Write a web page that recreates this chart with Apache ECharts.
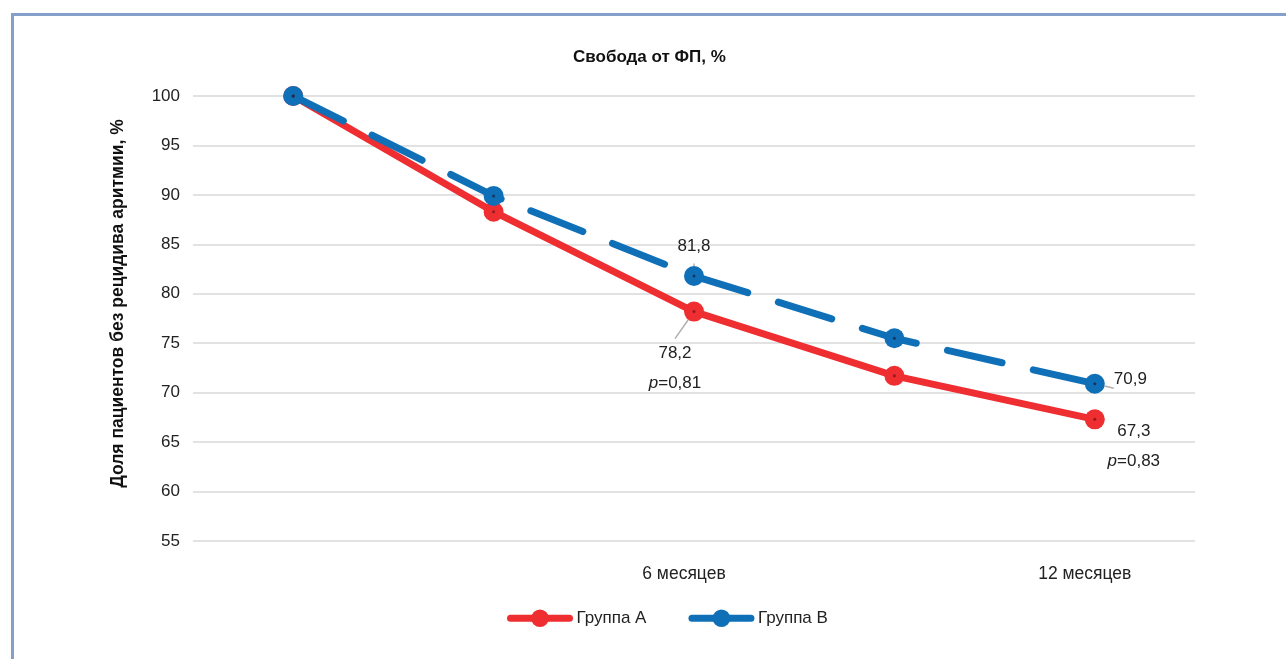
<!DOCTYPE html>
<html>
<head>
<meta charset="utf-8">
<script src="https://cdn.jsdelivr.net/npm/echarts@6/dist/echarts.min.js"></script>
<style>
  html, body { margin: 0; padding: 0; background: #fff; }
  #wrap { position: relative; width: 1286px; height: 659px; overflow: hidden; }
  #frame { position: absolute; left: 11px; top: 13px; width: 1400px; height: 800px;
           border-left: 3px solid #859fcb; border-top: 3px solid #859fcb; box-sizing: border-box; }
  #chart { position: absolute; left: 0; top: 0; width: 1286px; height: 659px; }
</style>
</head>
<body>
<div id="wrap">
  <div id="frame"></div>
  <div id="chart"></div>
</div>
<script>
// Follow-up points (only the 6- and 12-month marks are labelled)
const categories = ['', '', '6 месяцев', '', '12 месяцев'];
const groupA = [100, 88.3, 78.2, 71.7, 67.3];
const groupB = [100, 89.9, 81.8, 75.5, 70.9];
const yTicks = { min: 55, max: 100, interval: 5 };
// p-values shown under the labelled points of group A
const pValues = { 2: '0,81', 4: '0,83' };

const FONT = '"Liberation Sans", Arial, sans-serif';
const FS = 17;
const RED = '#ee2e31';
const BLUE = '#0f70b8';
const LEADER = { show: true, lineStyle: { color: '#b0b0b0', width: 1.5 } };

const fmt = v => String(v).replace('.', ',');

function labelA(i) {
  if (!(i in pValues)) return { show: false };
  const isLast = i === groupA.length - 1;
  return {
    show: true,
    position: 'bottom',
    offset: isLast ? [39, -18] : [-19, 12],
    lineHeight: 30,
    align: 'center',
    formatter: '{v|' + fmt(groupA[i]) + '}\n{pi|p}{v|=' + pValues[i] + '}',
    rich: {
      v: { fontFamily: FONT, fontSize: FS, color: '#222' },
      pi: { fontFamily: FONT, fontSize: FS, color: '#222', fontStyle: 'italic' }
    }
  };
}

function labelB(i) {
  if (i === 2) {
    return { show: true, position: 'top', offset: [0, -6],
             formatter: fmt(groupB[i]), fontFamily: FONT, fontSize: FS, color: '#222' };
  }
  if (i === 4) {
    return { show: true, position: 'right', offset: [4, -4],
             formatter: fmt(groupB[i]), fontFamily: FONT, fontSize: FS, color: '#222' };
  }
  return { show: false };
}

const chart = echarts.init(document.getElementById('chart'), null, { renderer: 'canvas' });

chart.setOption({
  animation: false,
  backgroundColor: 'transparent',
  title: {
    text: 'Свобода от ФП, %',
    left: 568,
    top: 44,
    textStyle: { fontFamily: FONT, fontSize: 17, fontWeight: 'bold', color: '#111' }
  },
  grid: { left: 193, right: 91, top: 96, bottom: 118 },
  legend: {
    bottom: 27,
    left: 502,
    itemWidth: 59,
    itemHeight: 22,
    itemGap: 42,
    textStyle: { fontFamily: FONT, fontSize: FS, color: '#222', padding: [0, 0, 0, 2] },
    lineStyle: { type: 'solid', width: 7, cap: 'round' },
    data: ['Группа А', 'Группа В']
  },
  xAxis: {
    type: 'category',
    data: categories,
    boundaryGap: true,
    axisLine: { show: false },
    axisTick: { show: false },
    axisLabel: {
      fontFamily: FONT, fontSize: 17.5, color: '#222', margin: 24,
      interval: 0, padding: [0, 20, 0, 0]
    }
  },
  yAxis: {
    type: 'value',
    min: yTicks.min,
    max: yTicks.max,
    interval: yTicks.interval,
    name: 'Доля пациентов без рецидива аритмии, %',
    nameLocation: 'middle',
    nameGap: 66,
    nameTextStyle: { fontFamily: FONT, fontSize: 17.5, fontWeight: 'bold', color: '#111',
                     padding: [0, 0, 0, 30] },
    axisLine: { show: false },
    axisTick: { show: false },
    axisLabel: { fontFamily: FONT, fontSize: FS, color: '#222', margin: 13 },
    splitLine: { lineStyle: { color: '#d9d9d9', width: 1.5 } }
  },
  series: [
    {
      name: 'Группа А',
      type: 'line',
      data: groupA.map((v, i) => ({
        value: v, label: labelA(i), labelLine: i === 2 ? LEADER : { show: false }
      })),
      symbol: 'circle',
      symbolSize: 20,
      lineStyle: { color: RED, width: 7, cap: 'round', join: 'round' },
      itemStyle: { color: RED },
      z: 2
    },
    {
      name: 'Группа В',
      type: 'line',
      data: groupB.map((v, i) => ({
        value: v, label: labelB(i), labelLine: (i === 2 || i === 4) ? LEADER : { show: false }
      })),
      symbol: 'circle',
      symbolSize: 20,
      lineStyle: { color: BLUE, width: 7, type: [56, 32], cap: 'round', join: 'round' },
      itemStyle: { color: BLUE },
      z: 3
    },
    // small dark centre dots on the markers
    {
      name: 'dotA',
      type: 'scatter',
      data: groupA,
      symbol: 'circle',
      symbolSize: 3,
      itemStyle: { color: '#7a1518' },
      silent: true,
      z: 4
    },
    {
      name: 'dotB',
      type: 'scatter',
      data: groupB,
      symbol: 'circle',
      symbolSize: 3,
      itemStyle: { color: '#14264f' },
      silent: true,
      z: 5
    }
  ]
});
</script>
</body>
</html>
